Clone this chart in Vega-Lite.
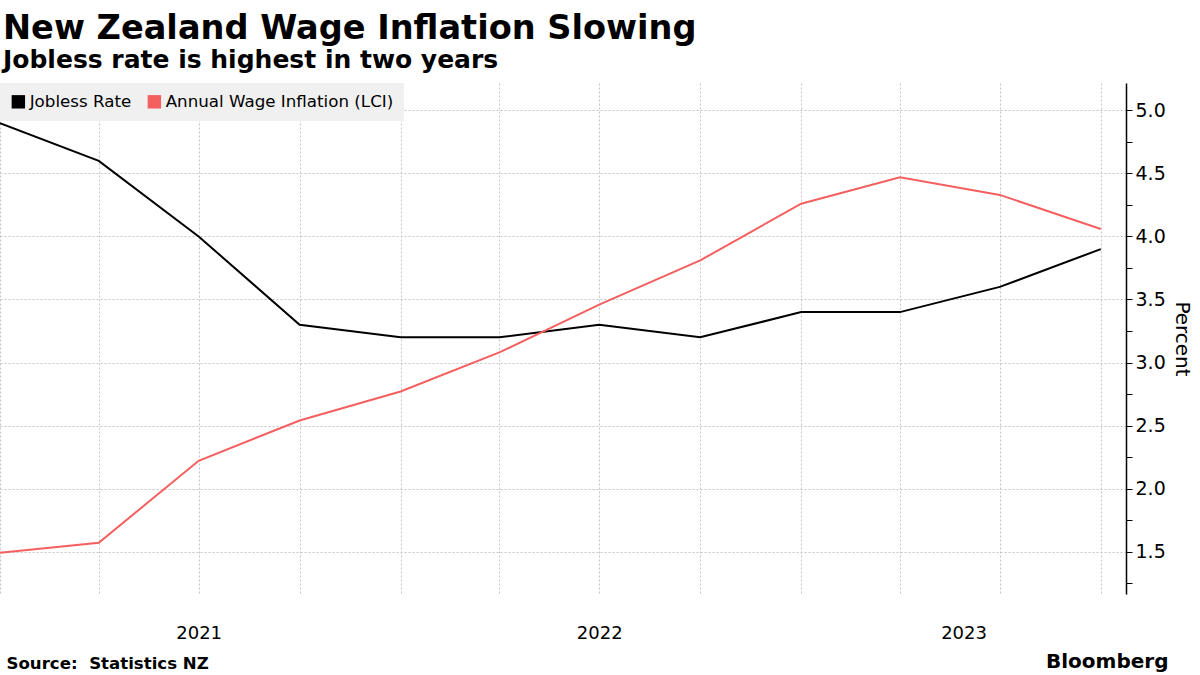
{
  "$schema": "https://vega.github.io/schema/vega-lite/v6.json",
  "autosize": {"type": "none"},
  "width": 1126,
  "height": 511,
  "padding": {"left": 0, "top": 83, "right": 74, "bottom": 81},
  "background": "white",
  "title": {
    "text": "New Zealand Wage Inflation Slowing",
    "subtitle": "Jobless rate is highest in two years",
    "anchor": "start",
    "frame": "group",
    "font": "DejaVu Sans",
    "fontSize": 33.6,
    "fontWeight": "bold",
    "color": "black",
    "subtitleFont": "DejaVu Sans",
    "subtitleFontSize": 25,
    "subtitleFontWeight": "bold",
    "subtitleColor": "black",
    "subtitlePadding": 2,
    "offset": 10,
    "dx": 3
  },
  "data": {
    "values": [
      {"date": "2020-12-31", "series": "Jobless Rate", "value": 4.9},
      {"date": "2021-03-31", "series": "Jobless Rate", "value": 4.6},
      {"date": "2021-06-30", "series": "Jobless Rate", "value": 4.0},
      {"date": "2021-09-30", "series": "Jobless Rate", "value": 3.3},
      {"date": "2021-12-31", "series": "Jobless Rate", "value": 3.2},
      {"date": "2022-03-31", "series": "Jobless Rate", "value": 3.2},
      {"date": "2022-06-30", "series": "Jobless Rate", "value": 3.3},
      {"date": "2022-09-30", "series": "Jobless Rate", "value": 3.2},
      {"date": "2022-12-31", "series": "Jobless Rate", "value": 3.4},
      {"date": "2023-03-31", "series": "Jobless Rate", "value": 3.4},
      {"date": "2023-06-30", "series": "Jobless Rate", "value": 3.6},
      {"date": "2023-09-30", "series": "Jobless Rate", "value": 3.9},
      {"date": "2020-12-31", "series": "Annual Wage Inflation (LCI)", "value": 1.49},
      {"date": "2021-03-31", "series": "Annual Wage Inflation (LCI)", "value": 1.57},
      {"date": "2021-06-30", "series": "Annual Wage Inflation (LCI)", "value": 2.22},
      {"date": "2021-09-30", "series": "Annual Wage Inflation (LCI)", "value": 2.54},
      {"date": "2021-12-31", "series": "Annual Wage Inflation (LCI)", "value": 2.77},
      {"date": "2022-03-31", "series": "Annual Wage Inflation (LCI)", "value": 3.08},
      {"date": "2022-06-30", "series": "Annual Wage Inflation (LCI)", "value": 3.46},
      {"date": "2022-09-30", "series": "Annual Wage Inflation (LCI)", "value": 3.81},
      {"date": "2022-12-31", "series": "Annual Wage Inflation (LCI)", "value": 4.26},
      {"date": "2023-03-31", "series": "Annual Wage Inflation (LCI)", "value": 4.47},
      {"date": "2023-06-30", "series": "Annual Wage Inflation (LCI)", "value": 4.33},
      {"date": "2023-09-30", "series": "Annual Wage Inflation (LCI)", "value": 4.06}
    ]
  },
  "layer": [
    {
      "mark": {"type": "line", "strokeWidth": 2, "clip": false},
      "encoding": {
        "x": {
          "field": "date",
          "type": "temporal",
          "scale": {
            "type": "utc",
            "domain": [
              {"year": 2020, "month": 12, "date": 31, "utc": true},
              {"year": 2023, "month": 10, "date": 23, "utc": true}
            ],
            "nice": false
          },
          "axis": {
            "orient": "bottom",
            "values": [
              {"year": 2020, "month": 12, "date": 31, "utc": true},
              {"year": 2021, "month": 3, "date": 31, "utc": true},
              {"year": 2021, "month": 6, "date": 30, "utc": true},
              {"year": 2021, "month": 9, "date": 30, "utc": true},
              {"year": 2021, "month": 12, "date": 31, "utc": true},
              {"year": 2022, "month": 3, "date": 31, "utc": true},
              {"year": 2022, "month": 6, "date": 30, "utc": true},
              {"year": 2022, "month": 9, "date": 30, "utc": true},
              {"year": 2022, "month": 12, "date": 31, "utc": true},
              {"year": 2023, "month": 3, "date": 31, "utc": true},
              {"year": 2023, "month": 5, "date": 28, "utc": true},
              {"year": 2023, "month": 6, "date": 30, "utc": true},
              {"year": 2023, "month": 9, "date": 30, "utc": true}
            ],
            "labelExpr": "((utcmonth(datum.value) == 5 && utcyear(datum.value) < 2023) || utcmonth(datum.value) == 4) ? utcFormat(datum.value, '%Y') : ''",
            "labelOverlap": false,
            "labelFlush": false,
            "labelFont": "DejaVu Sans",
            "labelFontSize": 18,
            "labelColor": "black",
            "labelPadding": 30,
            "ticks": false,
            "domain": false,
            "grid": true,
            "gridColor": {"condition": {"test": "utcmonth(datum.value) == 4", "value": "transparent"}, "value": "#c4c4c4"},
            "gridDash": [2, 2],
            "gridWidth": 1,
            "title": "Source: \u00a0Statistics NZ",
            "titleFont": "DejaVu Sans",
            "titleFontSize": 16.6,
            "titleFontWeight": "bold",
            "titleColor": "black",
            "titleAnchor": "start",
            "titleAlign": "left",
            "titleBaseline": "alphabetic",
            "titleX": 6,
            "titleY": 74
          }
        },
        "y": {
          "field": "value",
          "type": "quantitative",
          "scale": {"domain": [1.163, 5.218], "nice": false, "zero": false},
          "axis": {
            "orient": "right",
            "values": [1.25, 1.5, 1.75, 2.0, 2.25, 2.5, 2.75, 3.0, 3.25, 3.5, 3.75, 4.0, 4.25, 4.5, 4.75, 5.0],
            "labelExpr": "(datum.value * 2 == round(datum.value * 2)) ? format(datum.value, '.1f') : ''",
            "labelFont": "DejaVu Sans",
            "labelFontSize": 19,
            "labelColor": "black",
            "labelPadding": 3,
            "labelOverlap": false,
            "labelFlush": false,
            "tickSize": 6,
            "tickColor": "black",
            "domainColor": "black",
            "domainWidth": 1.5,
            "grid": true,
            "gridColor": {"condition": {"test": "datum.value * 2 != round(datum.value * 2)", "value": "transparent"}, "value": "#c4c4c4"},
            "gridDash": [2, 2],
            "title": "Percent",
            "titleFont": "DejaVu Sans",
            "titleFontSize": 20,
            "titleFontWeight": "normal",
            "titleColor": "black",
            "titlePadding": 6
          }
        },
        "color": {
          "field": "series",
          "type": "nominal",
          "scale": {
            "domain": ["Jobless Rate", "Annual Wage Inflation (LCI)"],
            "range": ["#000000", "#f45f5f"]
          },
          "legend": {
            "orient": "top-left",
            "direction": "horizontal",
            "title": null,
            "offset": 0,
            "padding": 10,
            "fillColor": "#f0f0f0",
            "symbolType": "square",
            "symbolSize": 180,
            "symbolStrokeWidth": 0,
            "labelFont": "DejaVu Sans",
            "labelFontSize": 16.7,
            "labelColor": "black",
            "labelOffset": 3,
            "labelLimit": 500,
            "columnPadding": 14,
            "encode": {
              "symbols": {
                "update": {
                  "fill": {"scale": "color", "field": "value"},
                  "strokeWidth": {"value": 0}
                }
              }
            }
          }
        }
      }
    },
    {
      "mark": {"type": "point", "opacity": 0},
      "encoding": {
        "x": {
          "field": "date",
          "type": "temporal",
          "axis": {
            "orient": "top",
            "labels": false,
            "ticks": false,
            "domain": false,
            "grid": false,
            "title": "Bloomberg",
            "titleFont": "DejaVu Sans",
            "titleFontSize": 20,
            "titleFontWeight": "bold",
            "titleColor": "black",
            "titleAlign": "right",
            "titleBaseline": "alphabetic",
            "titleAnchor": "end",
            "titleX": 1168,
            "titleY": 584
          }
        }
      }
    }
  ],
  "resolve": {"axis": {"x": "independent"}},
  "config": {
    "view": {"stroke": null}
  }
}
